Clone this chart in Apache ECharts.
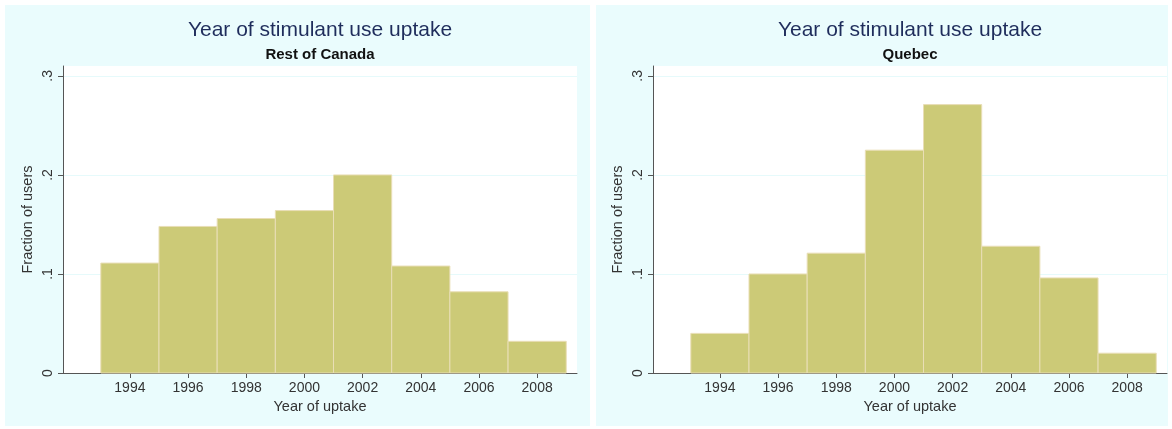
<!DOCTYPE html>
<html>
<head>
<meta charset="utf-8">
<script src="https://cdn.jsdelivr.net/npm/echarts@6/dist/echarts.min.js"></script>
<style>html,body{margin:0;padding:0;background:#fff;}#c{width:1172px;height:429px;}</style>
</head>
<body>
<div id="c"></div>
<script>
// ---- data ----
const binStarts = [1993, 1995, 1997, 1999, 2001, 2003, 2005, 2007];
const binWidth = 2;
const restOfCanada = [0.111, 0.148, 0.156, 0.164, 0.200, 0.108, 0.082, 0.032];
const quebec = [0.040, 0.100, 0.121, 0.225, 0.271, 0.128, 0.096, 0.020];
const xTickValues = [1994, 1996, 1998, 2000, 2002, 2004, 2006, 2008];
const yTickValues = [0, 0.1, 0.2, 0.3];
const panelTitles = ['Rest of Canada', 'Quebec'];
const mainTitle = 'Year of stimulant use uptake';

const FONT = "'Liberation Sans', Arial, sans-serif";
const chart = echarts.init(document.getElementById('c'));

function toData(vals) { return binStarts.map((s, i) => [s, s + binWidth, vals[i]]); }
function renderItem(params, api) {
  const p0 = api.coord([api.value(0), api.value(2)]);
  const p1 = api.coord([api.value(1), 0]);
  return { type: 'rect',
    shape: { x: p0[0], y: p0[1], width: p1[0] - p0[0], height: p1[1] - p0[1] },
    style: { fill: '#CCCA77', stroke: '#E9DEB6', lineWidth: 1 } };
}
function xAxis(idx) {
  return { type: 'value', gridIndex: idx, min: 1991.7, max: 2009.37,
    name: 'Year of uptake', nameLocation: 'middle', nameGap: 25,
    nameTextStyle: { fontFamily: FONT, fontSize: 14.5, color: '#333' },
    axisLine: { show: true, onZero: false, lineStyle: { color: '#555', width: 1 } },
    axisTick: { show: true, length: 5, lineStyle: { color: '#555' }, customValues: xTickValues },
    axisLabel: { fontFamily: FONT, fontSize: 14, color: '#333', margin: 8, customValues: xTickValues,
      formatter: v => String(v) },
    splitLine: { show: false } };
}
function yAxis(idx) {
  return { type: 'value', gridIndex: idx, min: 0, max: 0.31, interval: 0.1,
    name: 'Fraction of users', nameLocation: 'middle', nameGap: 28,
    nameTextStyle: { fontFamily: FONT, fontSize: 14.5, color: '#333' },
    axisLine: { show: true, lineStyle: { color: '#555', width: 1 } },
    axisTick: { show: true, length: 5, lineStyle: { color: '#555' }, customValues: yTickValues },
    axisLabel: { fontFamily: FONT, fontSize: 14, color: '#333', rotate: 90, margin: 8,
      customValues: yTickValues,
      formatter: v => v === 0 ? '0' : String(v).replace(/^0/, '') },
    splitLine: { show: true, lineStyle: { color: '#E6FAFB', width: 1 } } };
}
function titleTexts(cx, sub) {
  return [
    { type: 'text', x: cx, y: 30, style: { text: mainTitle, fill: '#1F2D5C', font: '21px ' + FONT, align: 'center', verticalAlign: 'middle' } },
    { type: 'text', x: cx, y: 55, style: { text: sub, fill: '#111', font: 'bold 15px ' + FONT, align: 'center', verticalAlign: 'middle' } }
  ];
}

chart.setOption({
  animation: false,
  backgroundColor: '#fff',
  graphic: [
    { type: 'rect', z: -10, shape: { x: 5, y: 5, width: 585, height: 421 }, style: { fill: '#EAFCFD' } },
    { type: 'rect', z: -10, shape: { x: 596, y: 5, width: 572, height: 421 }, style: { fill: '#EAFCFD' } },
    ...titleTexts(320, panelTitles[0]),
    ...titleTexts(910, panelTitles[1])
  ],
  grid: [
    { left: 63, right: 595, top: 66, bottom: 56, show: true, backgroundColor: '#fff', borderWidth: 0, containLabel: false },
    { left: 653, right: 5, top: 66, bottom: 56, show: true, backgroundColor: '#fff', borderWidth: 0, containLabel: false }
  ],
  xAxis: [xAxis(0), xAxis(1)],
  yAxis: [yAxis(0), yAxis(1)],
  series: [
    { type: 'custom', name: panelTitles[0], xAxisIndex: 0, yAxisIndex: 0, renderItem, encode: { x: [0, 1], y: 2 }, data: toData(restOfCanada) },
    { type: 'custom', name: panelTitles[1], xAxisIndex: 1, yAxisIndex: 1, renderItem, encode: { x: [0, 1], y: 2 }, data: toData(quebec) }
  ]
});
</script>
</body>
</html>
